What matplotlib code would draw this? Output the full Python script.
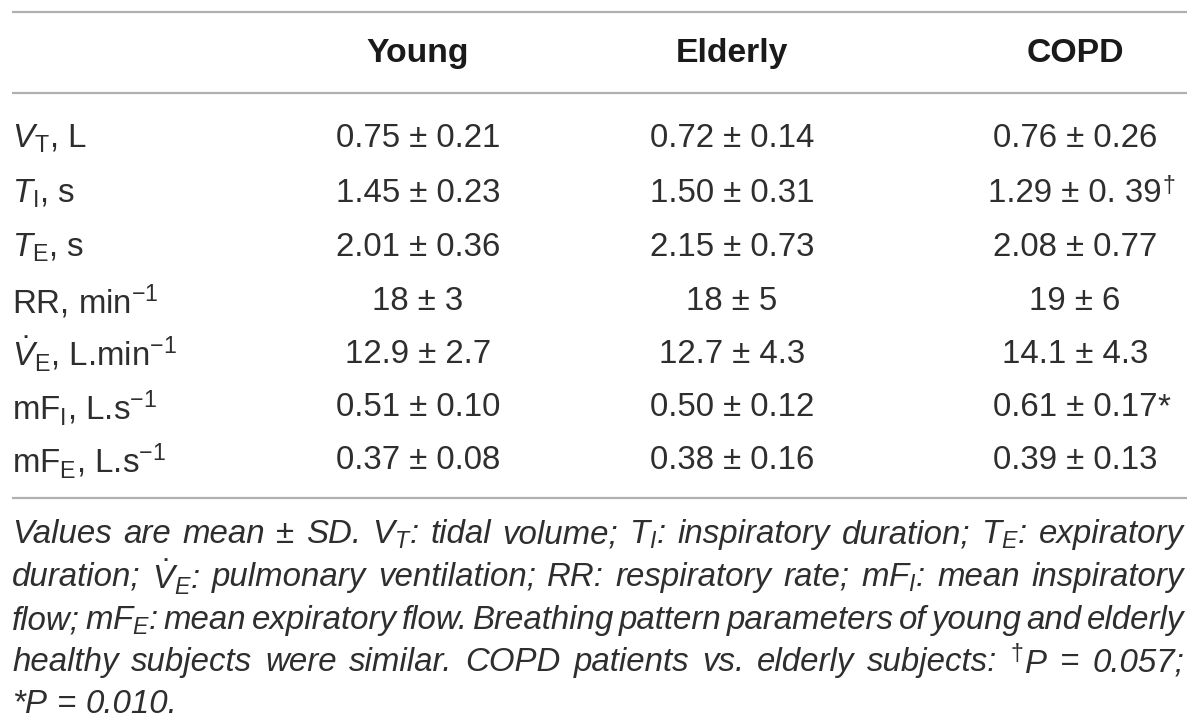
import matplotlib
matplotlib.use("Agg")
import matplotlib.pyplot as plt

plt.rcParams["font.family"] = ["Liberation Sans", "DejaVu Sans"]
plt.rcParams["mathtext.fontset"] = "custom"
plt.rcParams["mathtext.rm"] = "Liberation Sans"
plt.rcParams["mathtext.it"] = "Liberation Sans:italic"
plt.rcParams["mathtext.bf"] = "Liberation Sans:bold"

# table content
groups = ["Young", "Elderly", "COPD"]
row_labels = [
    r"$V_{\mathrm{T}}$, L",
    r"$T_{\mathrm{I}}$, s",
    r"$T_{\mathrm{E}}$, s",
    r"RR, min$^{-1}$",
    r"$\dot{V}_{\mathrm{E}}$, L.min$^{-1}$",
    r"mF$_{\mathrm{I}}$, L.s$^{-1}$",
    r"mF$_{\mathrm{E}}$, L.s$^{-1}$",
]
young = ["0.75 ± 0.21", "1.45 ± 0.23", "2.01 ± 0.36", "18 ± 3",
         "12.9 ± 2.7", "0.51 ± 0.10", "0.37 ± 0.08"]
elderly = ["0.72 ± 0.14", "1.50 ± 0.31", "2.15 ± 0.73", "18 ± 5",
           "12.7 ± 4.3", "0.50 ± 0.12", "0.38 ± 0.16"]
copd = ["0.76 ± 0.26", "1.29 ± 0. 39", "2.08 ± 0.77", "19 ± 6",
        "14.1 ± 4.3", "0.61 ± 0.17", "0.39 ± 0.13"]
copd_marks = ["", "$^{†}$", "", "", "", "*", ""]

note_lines = [
    r"Values are mean ± SD. $V_T$: tidal volume; $T_I$: inspiratory duration; $T_E$: expiratory",
    r"duration; $\dot{V}_E$: pulmonary ventilation; RR: respiratory rate; m$F_I$: mean inspiratory",
    r"flow; m$F_E$: mean expiratory flow. Breathing pattern parameters of young and elderly",
    r"healthy subjects were similar. COPD patients vs. elderly subjects: $^{†}$$P$ = 0.057;",
    r"*$P$ = 0.010.",
]

TXT = "#2e2e2e"
RULE = "#b0b0b0"
FS = 23.8

fig = plt.figure(figsize=(12, 7.25), dpi=100)
ax = fig.add_axes([0, 0, 1, 1])
ax.set_xlim(0, 1200)
ax.set_ylim(725, 0)
ax.axis("off")
r = fig.canvas.get_renderer()

x0, x1 = 12, 1187
for yl in (12, 93, 498):
    ax.plot([x0, x1], [yl, yl], color=RULE, lw=1.6, solid_capstyle="butt")

col_x = [418, 732, 1075]
for cx, g in zip(col_x, groups):
    ax.text(cx, 53, g, ha="center", va="center", fontsize=FS + 0.5,
            fontweight="bold", color="#1a1a1a")

row_y = [135, 190, 244, 298, 351, 404, 457]
for i, y in enumerate(row_y):
    ax.text(x0, y, row_labels[i], ha="left", va="center_baseline",
            fontsize=FS, color=TXT)
    for cx, col in zip(col_x, [young, elderly, copd]):
        t = ax.text(cx, y, col[i], ha="center", va="center_baseline",
                    fontsize=FS, color=TXT)
        if col is copd and copd_marks[i]:
            bb = t.get_window_extent(r)
            ax.text(cx + bb.width / 2, y, copd_marks[i], ha="left",
                    va="center_baseline", fontsize=FS, color=TXT)

# justified italic footnote
note_y = [531, 574, 617, 659, 701]
for k, (line, y) in enumerate(zip(note_lines, note_y)):
    # split on spaces outside of math
    words, cur, inmath = [], "", False
    for ch in line:
        if ch == "$":
            inmath = not inmath
        if ch == " " and not inmath:
            words.append(cur)
            cur = ""
        else:
            cur += ch
    words.append(cur)
    texts = [ax.text(0, y, w, ha="left", va="center_baseline", fontsize=FS,
                     style="italic", color=TXT) for w in words]
    widths = [t.get_window_extent(r).width for t in texts]
    if k < len(note_lines) - 1:
        gap = (x1 - 3 - x0 - sum(widths)) / (len(words) - 1)
    else:
        gap = 0.26 * FS * 100 / 72
    x = x0
    for t, w in zip(texts, widths):
        t.set_x(x)
        x += w + gap

fig.savefig("out.png", dpi=100, facecolor="white")
